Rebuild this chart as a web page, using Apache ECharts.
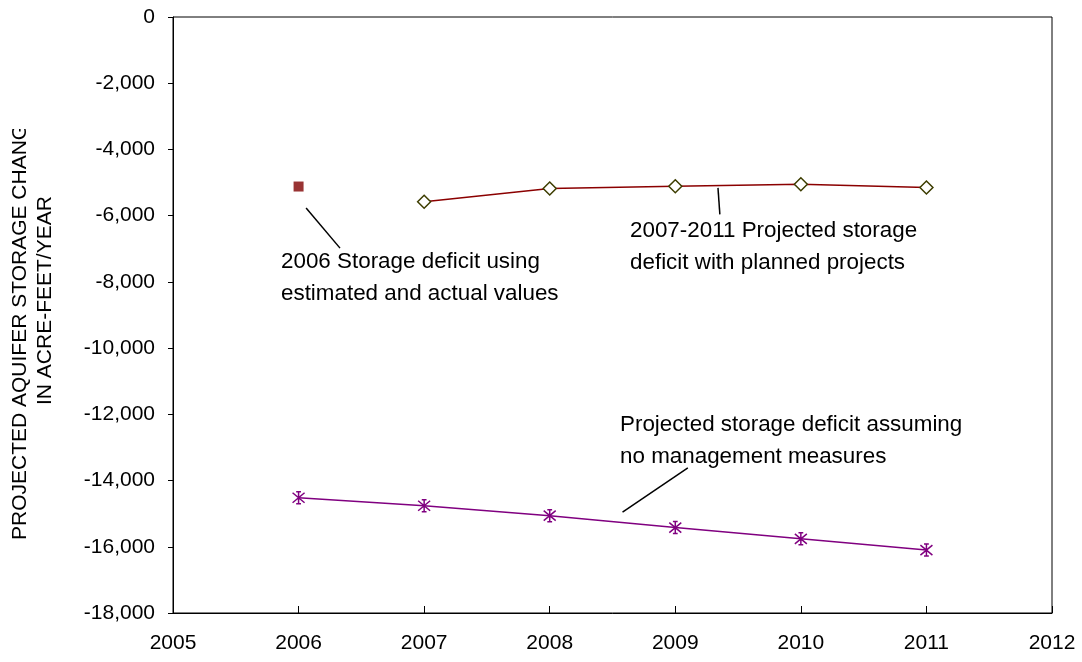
<!DOCTYPE html>
<html>
<head>
<meta charset="utf-8">
<script src="https://cdn.jsdelivr.net/npm/echarts@6/dist/echarts.min.js"></script>
<style>html,body{margin:0;padding:0;background:#fff;}#c{width:1082px;height:662px;}</style>
</head>
<body>
<div id="c"></div>
<script>
// ---- data ----
var actualYears = [2006];
var actualDeficit = [-5120];
var plannedYears = [2007, 2008, 2009, 2010, 2011];
var plannedDeficit = [-5580, -5180, -5110, -5050, -5150];
var noMgmtYears = [2006, 2007, 2008, 2009, 2010, 2011];
var noMgmtDeficit = [-14520, -14760, -15060, -15420, -15760, -16100];
var yTicks = {min: -18000, max: 0, step: 2000};
var xTicks = {min: 2005, max: 2012, step: 1};
var yTitle1 = 'PROJECTED AQUIFER STORAGE CHANGE';
var yTitle2 = 'IN ACRE-FEET/YEAR';
var note1 = ['2006 Storage deficit using', 'estimated and actual values'];
var note2 = ['2007-2011 Projected storage', 'deficit with planned projects'];
var note3 = ['Projected storage deficit assuming', 'no management measures'];

function pairs(xs, ys){ return xs.map(function(x,i){ return [x, ys[i]]; }); }
function commas(v){ var s = Math.abs(v).toString().replace(/\B(?=(\d{3})+(?!\d))/g, ','); return (v<0?'-':'') + s; }

var FONT = '"Liberation Sans", Arial, sans-serif';
var NOTE_FONT = '22.4px ' + FONT;
var leaderStyle = {color: '#000', width: 1.5, type: 'solid'};
function leader(a, b){ return [{coord: a}, {coord: b}]; }
var star = 'path://M0,-6L0,6M-5,-5L5,5M-5,5L5,-5M-2,-6L2,-6M-2,6L2,6';

var chart = echarts.init(document.getElementById('c'), null, {renderer: 'canvas'});
var option = {
  animation: false,
  backgroundColor: '#fff',
  grid: {left: 173, right: 30, top: 17, bottom: 49, show: true, borderColor: '#000', borderWidth: 1},
  xAxis: {
    type: 'value', min: xTicks.min, max: xTicks.max, interval: xTicks.step, position: 'bottom',
    axisLine: {onZero: false, lineStyle: {color: '#000', width: 1}},
    axisTick: {inside: true, length: 7, lineStyle: {color: '#000'}},
    splitLine: {show: false},
    axisLabel: {color: '#000', fontSize: 21, fontFamily: FONT, margin: 20, formatter: function(v){ return String(v); }}
  },
  yAxis: {
    type: 'value', min: yTicks.min, max: yTicks.max, interval: yTicks.step,
    axisLine: {show: true, onZero: false, lineStyle: {color: '#000', width: 1}},
    axisTick: {show: true, inside: false, length: 5, lineStyle: {color: '#000'}},
    splitLine: {show: false},
    axisLabel: {color: '#000', fontSize: 21, fontFamily: FONT, margin: 18, formatter: commas}
  },
  series: [
    {
      type: 'scatter', data: pairs(actualYears, actualDeficit),
      symbol: 'rect', symbolSize: 10, itemStyle: {color: '#800000'},
      markLine: {silent: true, symbol: ['none','none'], label: {show: false}, lineStyle: leaderStyle,
        data: [leader([2006.06, -5770], [2006.33, -6980])]}
    },
    {
      type: 'line', data: pairs(plannedYears, plannedDeficit),
      symbol: 'diamond', symbolSize: 13,
      lineStyle: {color: '#8B0000', width: 1.5},
      itemStyle: {color: '#fff', borderColor: '#3d3d00', borderWidth: 1.5},
      markLine: {silent: true, symbol: ['none','none'], label: {show: false}, lineStyle: leaderStyle,
        data: [leader([2009.34, -5160], [2009.355, -5960])]}
    },
    {
      type: 'line', data: pairs(noMgmtYears, noMgmtDeficit),
      symbol: star, symbolSize: 12,
      lineStyle: {color: '#800080', width: 1.5},
      itemStyle: {color: '#800080', borderColor: '#800080', borderWidth: 1.5},
      markLine: {silent: true, symbol: ['none','none'], label: {show: false}, lineStyle: leaderStyle,
        data: [leader([2008.58, -14950], [2009.10, -13620])]}
    }
  ],
  graphic: [
    {type: 'text', x: 20, y: 540, rotation: Math.PI/2, z: 10,
      style: {text: yTitle1, fill: '#000', font: '21px ' + FONT, textAlign: 'left', textVerticalAlign: 'middle'}},
    {type: 'rect', shape: {x: 0, y: 0, width: 34, height: 129}, style: {fill: '#fff'}, z: 20},
    {type: 'text', x: 45, y: 405, rotation: Math.PI/2, z: 10,
      style: {text: yTitle2, fill: '#000', font: '21px ' + FONT, textAlign: 'left', textVerticalAlign: 'middle'}},
    {type: 'text', x: 281, y: 262, z: 10, style: {text: note1[0], fill: '#000', font: NOTE_FONT, textVerticalAlign: 'middle'}},
    {type: 'text', x: 281, y: 294, z: 10, style: {text: note1[1], fill: '#000', font: NOTE_FONT, textVerticalAlign: 'middle'}},
    {type: 'text', x: 630, y: 231, z: 10, style: {text: note2[0], fill: '#000', font: NOTE_FONT, textVerticalAlign: 'middle'}},
    {type: 'text', x: 630, y: 263, z: 10, style: {text: note2[1], fill: '#000', font: NOTE_FONT, textVerticalAlign: 'middle'}},
    {type: 'text', x: 620, y: 425, z: 10, style: {text: note3[0], fill: '#000', font: NOTE_FONT, textVerticalAlign: 'middle'}},
    {type: 'text', x: 620, y: 457, z: 10, style: {text: note3[1], fill: '#000', font: NOTE_FONT, textVerticalAlign: 'middle'}}
  ]
};
chart.setOption(option);
</script>
</body>
</html>
